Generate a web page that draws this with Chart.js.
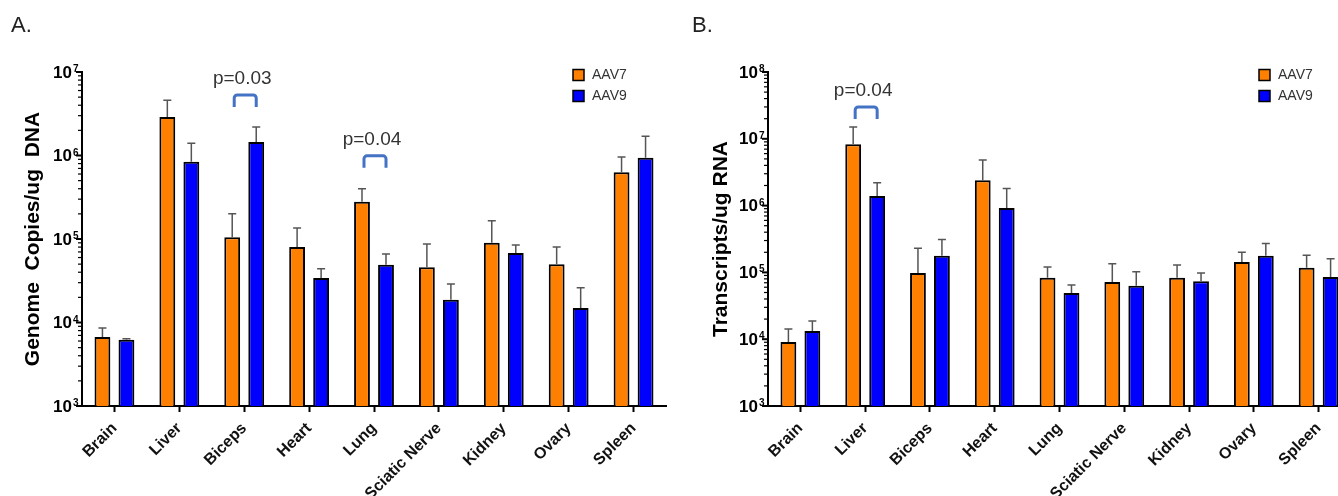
<!DOCTYPE html>
<html lang="en">
<head>
  <meta charset="UTF-8" />
  <title>AAV7 vs AAV9 biodistribution</title>
  <script src="https://cdn.jsdelivr.net/npm/chart.js"></script>
  <style>
    html, body { margin: 0; padding: 0; background: #fff; overflow: hidden; width: 1338px; height: 496px; }
    .panel { position: absolute; top: 0; height: 496px; }
    .tag { position: absolute; top: 14px; font: 22px "Liberation Sans", Arial, sans-serif; line-height: 1; color: #222; z-index: 2; }
  </style>
</head>
<body>
  <div class="panel" style="left:0;width:669px"><canvas id="dnaChart" width="669" height="496"></canvas></div>
  <div class="panel" style="left:669px;width:700px"><canvas id="rnaChart" width="700" height="496"></canvas></div>
  <div class="tag" style="left:11px">A.</div>
  <div class="tag" style="left:692px">B.</div>

  <script>
    const categories = ['Brain', 'Liver', 'Biceps', 'Heart', 'Lung', 'Sciatic Nerve', 'Kidney', 'Ovary', 'Spleen'];
    const seriesNames = ['AAV7', 'AAV9'];
    const seriesColors = ['#FF7F00', '#0000FF'];

    // A. genome copies / ug DNA (mean and SD)
    const dnaAAV7 = [6700, 2.9e6, 1.05e5, 8.0e4, 2.8e5, 4.6e4, 9.0e4, 5.0e4, 6.3e5];
    const dnaAAV7Sd = [1900, 1.7e6, 9.5e4, 5.5e4, 1.2e5, 4.1e4, 7.5e4, 3.0e4, 3.3e5];
    const dnaAAV9 = [6200, 8.4e5, 1.45e6, 3.4e4, 4.9e4, 1.87e4, 6.8e4, 1.49e4, 9.4e5];
    const dnaAAV9Sd = [200, 5.6e5, 7.5e5, 1.0e4, 1.7e4, 1.03e4, 1.7e4, 1.11e4, 7.6e5];

    // B. transcripts / ug RNA
    const rnaAAV7 = [9100, 8.3e6, 9.8e4, 2.4e6, 8.3e4, 7.2e4, 8.3e4, 1.43e5, 1.17e5];
    const rnaAAV7Sd = [5100, 6.7e6, 1.32e5, 2.4e6, 3.7e4, 6.3e4, 4.6e4, 5.7e4, 6.3e4];
    const rnaAAV9 = [1.33e4, 1.39e6, 1.77e5, 9.2e5, 4.9e4, 6.3e4, 7.4e4, 1.77e5, 8.5e4];
    const rnaAAV9Sd = [5500, 8.1e5, 1.33e5, 8.8e5, 1.6e4, 3.9e4, 2.4e4, 9.3e4, 7.5e4];

    const dnaTicks = [1e3, 1e4, 1e5, 1e6, 1e7];
    const rnaTicks = [1e3, 1e4, 1e5, 1e6, 1e7, 1e8];

    const dnaBrackets = [
      { cat: 2, level: 5.3e6, text: 'p=0.03' },
      { cat: 4, level: 9.9e5, text: 'p=0.04' }
    ];
    const rnaBrackets = [
      { cat: 1, level: 3.0e7, text: 'p=0.04' }
    ];

    const FONT = '"Liberation Sans", Arial, sans-serif';

    // upward-only SD whiskers
    const errorBars = {
      id: 'errorBars',
      afterDatasetsDraw(chart) {
        const ctx = chart.ctx, y = chart.scales.y;
        ctx.save();
        ctx.strokeStyle = '#555';
        ctx.lineWidth = 1.5;
        chart.data.datasets.forEach((ds, i) => {
          chart.getDatasetMeta(i).data.forEach((bar, j) => {
            const top = y.getPixelForValue(ds.data[j] + ds.sd[j]);
            ctx.beginPath();
            ctx.moveTo(bar.x, bar.y);
            ctx.lineTo(bar.x, top);
            ctx.moveTo(bar.x - 4, top);
            ctx.lineTo(bar.x + 4, top);
            ctx.stroke();
          });
        });
        ctx.restore();
      }
    };

    // log axis: long ticks at decades, short ones in between, 10^n labels
    const logAxis = {
      id: 'logAxis',
      afterDraw(chart, args, opts) {
        const ctx = chart.ctx, y = chart.scales.y, x0 = chart.chartArea.left;
        const vals = opts.values;
        ctx.save();
        ctx.strokeStyle = '#000';
        ctx.fillStyle = '#000';
        vals.forEach((v, i) => {
          const py = y.getPixelForValue(v);
          ctx.lineWidth = 2;
          ctx.beginPath(); ctx.moveTo(x0 - 6, py); ctx.lineTo(x0, py); ctx.stroke();
          if (i < vals.length - 1) {
            ctx.lineWidth = 1.2;
            for (let m = 2; m < 10; m++) {
              const my = y.getPixelForValue(v * m);
              ctx.beginPath(); ctx.moveTo(x0 - 4, my); ctx.lineTo(x0, my); ctx.stroke();
            }
          }
          const exp = Math.round(Math.log10(v));
          ctx.font = 'bold 17px ' + FONT;
          ctx.textAlign = 'right';
          ctx.textBaseline = 'middle';
          ctx.fillText('10', x0 - 10, py + 1);
          ctx.font = 'bold 10px ' + FONT;
          ctx.textAlign = 'left';
          ctx.textBaseline = 'alphabetic';
          ctx.fillText(String(exp), x0 - 9, py);
        });
        ctx.restore();
      }
    };

    const brackets = {
      id: 'brackets',
      afterDraw(chart, args, opts) {
        const ctx = chart.ctx, y = chart.scales.y;
        const m0 = chart.getDatasetMeta(0), m1 = chart.getDatasetMeta(1);
        ctx.save();
        opts.items.forEach(b => {
          const x1 = m0.data[b.cat].x + 2, x2 = m1.data[b.cat].x;
          const yt = y.getPixelForValue(b.level);
          ctx.strokeStyle = '#4472C4';
          ctx.lineWidth = 3;
          ctx.beginPath();
          ctx.moveTo(x1, yt + 12);
          ctx.arcTo(x1, yt, x2, yt, 3);
          ctx.arcTo(x2, yt, x2, yt + 12, 3);
          ctx.lineTo(x2, yt + 12);
          ctx.stroke();
          ctx.font = '19px ' + FONT;
          ctx.fillStyle = '#333';
          ctx.textAlign = 'center';
          ctx.textBaseline = 'alphabetic';
          ctx.fillText(b.text, (x1 + x2) / 2 - 3, yt - 11);
        });
        ctx.restore();
      }
    };

    const sideLegend = {
      id: 'sideLegend',
      afterDraw(chart, args, opts) {
        const ctx = chart.ctx;
        ctx.save();
        chart.data.datasets.forEach((ds, i) => {
          const cy = opts.y + i * 21;
          ctx.fillStyle = ds.backgroundColor;
          ctx.fillRect(opts.x, cy - 5.5, 11, 11);
          ctx.strokeStyle = '#000';
          ctx.lineWidth = 1.5;
          ctx.strokeRect(opts.x, cy - 5.5, 11, 11);
          ctx.font = '14px ' + FONT;
          ctx.fillStyle = '#333';
          ctx.textAlign = 'left';
          ctx.textBaseline = 'middle';
          ctx.fillText(ds.label, opts.x + 19, cy);
        });
        ctx.restore();
      }
    };

    function makeChart(id, s1, sd1, s2, sd2, ticks, title, titlePad, areaLeft, padRight, marks, legendX) {
      return new Chart(document.getElementById(id), {
        type: 'bar',
        data: {
          labels: categories,
          datasets: [
            { label: seriesNames[0], data: s1, sd: sd1, backgroundColor: seriesColors[0], borderColor: '#000', borderWidth: 2 },
            { label: seriesNames[1], data: s2, sd: sd2, backgroundColor: seriesColors[1], borderColor: '#000', borderWidth: 2 }
          ]
        },
        options: {
          responsive: false,
          animation: false,
          layout: { padding: { left: 0, top: 72, right: padRight, bottom: 0 } },
          datasets: { bar: { categoryPercentage: 0.74, barPercentage: 0.66 } },
          plugins: {
            legend: { display: false },
            tooltip: { enabled: false },
            logAxis: { values: ticks },
            brackets: { items: marks },
            sideLegend: { x: legendX, y: 75 }
          },
          scales: {
            x: {
              offset: true,
              grid: { display: true, drawOnChartArea: false, offset: false, tickLength: 6, tickWidth: 2, tickColor: '#000' },
              border: { display: true, color: '#000', width: 2 },
              ticks: {
                color: '#111', autoSkip: false, maxRotation: 45, minRotation: 45, padding: 7,
                font: { family: FONT, size: 16, weight: 'bold' }
              },
              afterFit: s => { s.height = 90; }
            },
            y: {
              type: 'logarithmic',
              min: ticks[0],
              max: ticks[ticks.length - 1],
              grid: { display: false },
              border: { display: true, color: '#000', width: 2 },
              ticks: { display: false },
              title: {
                display: true, text: title, color: '#000',
                font: { family: FONT, size: 21, weight: 'bold' },
                padding: { top: titlePad, bottom: 0 }
              },
              afterFit: s => { s.width = areaLeft; }
            }
          }
        },
        plugins: [errorBars, logAxis, brackets, sideLegend]
      });
    }

    makeChart('dnaChart', dnaAAV7, dnaAAV7Sd, dnaAAV9, dnaAAV9Sd, dnaTicks,
      'Genome  Copies/ug  DNA', 21, 82, 3, dnaBrackets, 573);
    makeChart('rnaChart', rnaAAV7, rnaAAV7Sd, rnaAAV9, rnaAAV9Sd, rnaTicks,
      'Transcripts/ug RNA', 40, 99, 18, rnaBrackets, 590);
  </script>
</body>
</html>
